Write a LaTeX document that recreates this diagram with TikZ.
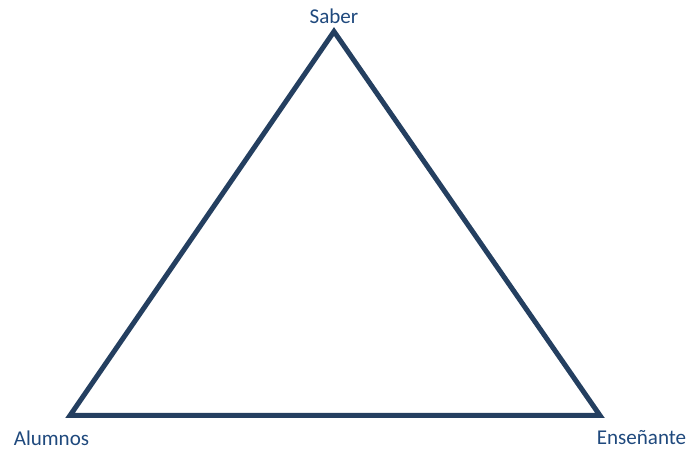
\documentclass[tikz,border=0pt]{standalone}
\usepackage{fontspec}
\setmainfont{Carlito}
\definecolor{linec}{HTML}{243F60}
\definecolor{textc}{HTML}{1F497D}
\begin{document}
\begin{tikzpicture}[x=0.75pt,y=-0.75pt,
  lbl/.style={text=textc,font=\fontsize{15.8}{18}\selectfont,inner sep=0pt}]
\useasboundingbox (0,0) rectangle (687,449);
\coordinate (S) at (334,31.5);
\coordinate (A) at (70,415.5);
\coordinate (E) at (600,415.5);
\draw[linec,line width=3.75pt,line join=miter] (S) -- (E) -- (A) -- cycle;
\node[lbl] (ls) at (334,16) {Saber};
\node[lbl] (la) at (51.5,438) {Alumnos};
\node[lbl] (le) at (641.5,438) {Enseñante};
\end{tikzpicture}
\end{document}
